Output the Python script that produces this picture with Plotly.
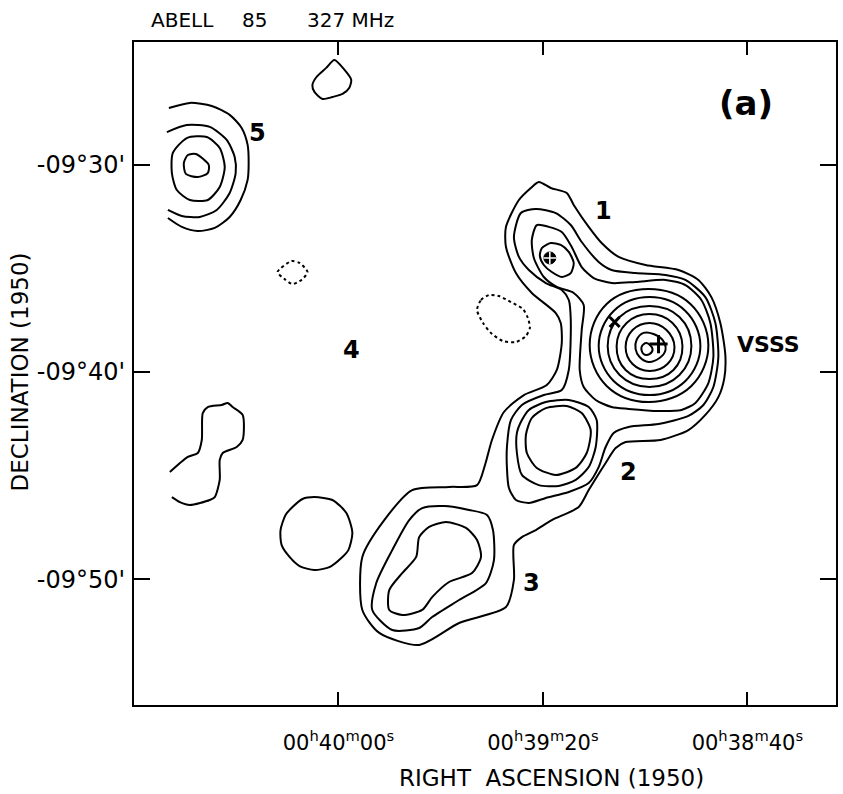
import plotly.graph_objects as go

# Axis units: RA = seconds of time after 00h38m00s (1950); Dec = arcmin, -30 means -09d30'
ra_tick_vals = [120, 80, 40]
ra_tick_text = ["00<sup>h</sup>40<sup>m</sup>00<sup>s</sup>",
                "00<sup>h</sup>39<sup>m</sup>20<sup>s</sup>",
                "00<sup>h</sup>38<sup>m</sup>40<sup>s</sup>"]
dec_tick_vals = [-30, -40, -50]
dec_tick_text = ["-09°30'", "-09°40'", "-09°50'"]
ra_range = [160.0, 22.66]
dec_range = [-56.08, -24.06]

# ---- contour vertices (RA, Dec) ----
top_blob = [(120.8, -24.93), (118.8, -25.41), (117.5, -25.89), (117.9, -26.28), (119.2, -26.57),
            (121.2, -26.72), (123.1, -26.81), (124.7, -26.47), (125.1, -26.14), (124.3, -25.75),
            (122.4, -25.31)]

src5_a = [(153.18, -27.25), (149.08, -27.00), (144.79, -27.15), (141.28, -27.58), (138.94, -28.21),
          (137.77, -29.03), (137.57, -29.90), (137.77, -30.72), (139.13, -31.69), (141.28, -32.51),
          (144.20, -33.04), (147.52, -33.19), (150.64, -32.99), (153.37, -32.56)]
src5_b = [(153.57, -28.41), (149.67, -28.07), (145.18, -28.16), (141.86, -28.79), (140.30, -29.61),
          (140.11, -30.39), (141.28, -31.35), (143.81, -32.17), (147.13, -32.51), (150.64, -32.46),
          (153.37, -32.17)]
src5_c = [(152.40, -29.42), (149.67, -28.70), (145.76, -28.65), (143.23, -29.18), (142.25, -30.10),
          (143.23, -31.06), (145.57, -31.69), (149.08, -31.69), (151.62, -31.21), (152.59, -30.39)]
src5_d = [(150.25, -29.90), (149.47, -29.52), (147.91, -29.47), (145.37, -30.00), (145.57, -30.39),
          (147.52, -30.58), (149.86, -30.43)]

left_blob = [(152.98, -44.83), (149.47, -44.10), (147.52, -43.91), (146.74, -43.28), (146.55, -41.98),
             (145.57, -41.69), (142.84, -41.59), (141.67, -41.49), (140.70, -41.69), (138.74, -42.07),
             (138.74, -43.28), (139.91, -43.62), (142.64, -43.91), (143.23, -44.25), (143.23, -45.21),
             (144.20, -46.04), (145.18, -46.18), (149.08, -46.42), (151.03, -46.28), (152.59, -46.04)]

round_blob = [(124.69, -46.04), (121.18, -46.18), (118.45, -46.81), (117.28, -47.77), (118.06, -48.60),
              (119.23, -48.93), (121.77, -49.42), (124.69, -49.56), (127.62, -49.37), (129.57, -48.93),
              (131.13, -48.35), (131.33, -47.63), (130.35, -46.90), (128.99, -46.52), (127.04, -46.13)]

neg_small = [(131.91, -35.17), (129.18, -34.64), (127.62, -34.73), (126.06, -35.17), (127.23, -35.55),
             (128.99, -35.75), (130.55, -35.51)]
neg_large = [(92.89, -37.00), (92.11, -36.52), (90.55, -36.28), (88.60, -36.33), (86.26, -36.62),
             (83.92, -36.95), (82.94, -37.39), (82.55, -37.87), (83.33, -38.26), (85.28, -38.55),
             (87.82, -38.50), (90.16, -38.11), (91.72, -37.63)]

lowest_level = [(80.80, -30.82), (78.46, -31.11), (75.33, -31.35), (73.97, -31.93), (71.04, -32.99),
                (68.51, -33.77), (65.19, -34.44), (59.92, -34.83), (53.48, -35.07), (49.58, -35.55),
                (47.04, -36.38), (45.29, -37.63), (44.31, -39.18), (44.51, -40.29), (45.68, -41.21),
                (48.22, -42.07), (51.53, -42.80), (56.99, -43.28), (63.82, -43.38), (65.77, -43.67),
                (67.73, -44.39), (71.04, -45.70), (73.00, -46.52), (78.26, -47.15), (81.38, -47.63),
                (84.11, -47.97), (85.67, -48.35), (85.67, -50.04), (87.23, -51.35), (96.40, -52.12),
                (104.21, -53.18), (112.01, -52.60), (115.33, -51.49), (115.33, -48.93), (111.04, -47.15),
                (105.57, -45.70), (98.36, -45.55), (92.89, -45.46), (91.33, -44.49), (89.97, -43.28),
                (87.63, -41.93), (83.72, -41.11), (79.24, -40.63), (77.28, -39.90), (76.31, -38.60),
                (76.51, -37.63), (77.48, -37.15), (82.17, -36.18), (85.28, -35.22), (87.23, -33.96),
                (87.23, -32.99), (84.70, -31.69), (82.36, -31.11)]

second_level = [(84.31, -32.32), (81.38, -32.12), (77.48, -32.32), (74.55, -32.90), (72.41, -33.72),
                (69.09, -34.68), (66.55, -35.07), (61.87, -35.22), (56.02, -35.31), (52.12, -35.55),
                (48.22, -36.38), (46.26, -37.63), (45.68, -39.27), (46.65, -40.72), (48.60, -41.59),
                (51.53, -42.12), (57.38, -42.51), (63.24, -42.65), (66.16, -42.94), (67.73, -43.62),
                (69.09, -44.59), (71.04, -45.36), (74.94, -45.79), (79.43, -46.08), (82.75, -46.32),
                (85.28, -46.18), (86.65, -45.60), (87.04, -44.63), (87.04, -43.62), (86.26, -42.32),
                (84.11, -41.59), (79.82, -41.11), (76.31, -40.87), (74.94, -39.90), (74.55, -37.49),
                (74.94, -36.52), (76.31, -36.04), (79.43, -35.70), (82.75, -35.07), (84.70, -34.44),
                (85.67, -33.48)]

third_level = [(81.19, -32.90), (78.85, -32.99), (76.31, -33.24), (74.36, -33.96), (72.41, -34.93),
               (70.07, -35.46), (66.55, -35.70), (61.87, -35.65), (56.02, -35.55), (52.12, -35.80),
               (49.00, -36.52), (47.24, -37.63), (46.65, -39.27), (47.63, -40.53), (50.17, -41.49),
               (52.90, -41.83), (57.38, -41.88), (63.24, -41.78), (66.55, -41.69), (69.67, -41.35),
               (72.02, -40.72), (72.80, -39.90), (72.41, -37.97), (72.02, -36.76), (73.97, -36.18),
               (77.28, -35.89), (79.82, -35.41), (81.77, -34.49), (82.17, -33.62)]

src1_inner = [(80.21, -34.01), (78.46, -33.77), (76.51, -33.86), (74.94, -34.20), (73.97, -34.73),
              (74.55, -35.22), (76.31, -35.41), (78.26, -35.17), (79.82, -34.83), (80.60, -34.39)]

src2_ring = [(84.11, -42.32), (82.75, -41.83), (79.43, -41.45), (74.94, -41.35), (71.04, -41.69),
             (69.48, -42.32), (69.67, -43.62), (71.04, -44.59), (73.58, -45.21), (76.89, -45.50),
             (80.80, -45.46), (84.11, -44.97), (85.09, -43.91), (85.09, -42.94)]
src2_inner = [(79.43, -41.74), (75.33, -41.64), (72.41, -41.98), (70.65, -42.80), (71.43, -43.91),
              (73.58, -44.63), (77.48, -44.97), (81.19, -44.63), (83.14, -43.91), (83.33, -43.04),
              (82.17, -42.22)]

src3_mid = [(103.62, -46.57), (99.33, -46.47), (94.45, -46.66), (90.94, -46.90), (89.77, -47.63),
            (89.58, -49.08), (91.14, -50.19), (96.41, -51.01), (101.67, -51.83), (104.21, -52.36),
            (109.48, -52.46), (113.38, -51.49), (112.60, -50.19), (109.48, -48.60), (106.16, -47.15)]
src3_inner = [(102.26, -47.48), (98.94, -47.24), (95.04, -47.53), (92.89, -48.11), (92.11, -48.93),
              (93.87, -49.71), (98.36, -50.14), (101.67, -50.87), (103.62, -51.49), (107.53, -51.73),
              (110.06, -51.49), (110.06, -50.53), (107.53, -49.71), (104.79, -48.93), (104.21, -47.97)]

vsss_1 = [(60.70, -38.79), (59.73, -38.60), (58.55, -38.89), (59.14, -39.13), (60.31, -39.13)]
vsss_2 = [(61.68, -38.45), (60.31, -38.11), (58.36, -38.16), (56.60, -38.45), (56.02, -38.94),
          (57.19, -39.32), (59.33, -39.51), (61.09, -39.27), (61.87, -38.89)]
vsss_3 = [(63.82, -38.79), (62.46, -37.97), (59.14, -37.63), (55.82, -37.97), (54.26, -38.79),
          (55.63, -39.61), (59.14, -39.95), (62.46, -39.61)]
vsss_4 = [(65.58, -38.74), (63.63, -37.63), (59.14, -37.20), (54.65, -37.63), (52.70, -38.74),
          (54.46, -39.90), (59.14, -40.34), (63.82, -39.90)]
vsss_5 = [(67.33, -38.74), (64.99, -37.34), (59.14, -36.81), (53.29, -37.34), (50.95, -38.74),
          (53.29, -40.14), (59.14, -40.72), (64.99, -40.14)]
vsss_6 = [(69.09, -38.74), (66.16, -37.05), (59.14, -36.38), (52.12, -37.05), (49.19, -38.74),
          (52.12, -40.43), (59.14, -41.11), (66.16, -40.43)]
vsss_7 = [(70.85, -38.69), (67.53, -36.71), (59.33, -35.99), (51.14, -36.71), (47.63, -38.69),
          (50.95, -40.67), (59.33, -41.45), (67.53, -40.67)]

# optical / other positions
opt_circle_pos = (78.65, -34.49)
x_mark_pos = (65.97, -37.58)
plus_mark_pos = (57.38, -38.65)

# labels (text, RA, Dec, size)
source_labels = [("5", 135.81, -28.45, 24), ("1", 68.12, -32.22, 24), ("VSSS", 35.9, -38.69, 22),
                 ("4", 117.48, -38.94, 24), ("2", 63.24, -44.83, 24), ("3", 82.17, -50.19, 24),
                 ("(a)", 40.2, -27.0, 34)]

fig = go.Figure()

def add_contour(pts, closed=True, dash="solid", smooth=0.7):
    p = list(pts) + ([pts[0]] if closed else [])
    fig.add_trace(go.Scatter(x=[q[0] for q in p], y=[q[1] for q in p], mode="lines",
                             line=dict(color="black", width=2, dash=dash, shape="spline",
                                       smoothing=smooth),
                             hoverinfo="skip", showlegend=False))

for c in [top_blob, src5_c, src5_d, round_blob, lowest_level, second_level, third_level,
          src1_inner, src2_ring, src2_inner, src3_mid, src3_inner]:
    add_contour(c)
for c in [src5_a, src5_b, left_blob]:
    add_contour(c, closed=False)
for c in [vsss_1, vsss_2, vsss_3, vsss_4, vsss_5, vsss_6, vsss_7]:
    add_contour(c, smooth=1.1)
for c in [neg_small, neg_large]:
    add_contour(c, dash="3px,3px")

fig.add_trace(go.Scatter(x=[opt_circle_pos[0]], y=[opt_circle_pos[1]], mode="markers",
                         marker=dict(symbol="circle", size=12, color="black",
                                     line=dict(color="black", width=1)),
                         hoverinfo="skip", showlegend=False))
fig.add_trace(go.Scatter(x=[opt_circle_pos[0]], y=[opt_circle_pos[1]], mode="markers",
                         marker=dict(symbol="cross-thin-open", size=9, color="white",
                                     line=dict(color="white", width=1.5)),
                         hoverinfo="skip", showlegend=False))
fig.add_trace(go.Scatter(x=[x_mark_pos[0]], y=[x_mark_pos[1]], mode="markers",
                         marker=dict(symbol="x-thin-open", size=10, color="black",
                                     line=dict(color="black", width=3)),
                         hoverinfo="skip", showlegend=False))
fig.add_trace(go.Scatter(x=[plus_mark_pos[0]], y=[plus_mark_pos[1]], mode="markers",
                         marker=dict(symbol="cross-thin-open", size=13, color="black",
                                     line=dict(color="black", width=3)),
                         hoverinfo="skip", showlegend=False))

for txt, ra, dec, sz in source_labels:
    fig.add_annotation(x=ra, y=dec, xref="x", yref="y", text="<b>%s</b>" % txt, showarrow=False,
                       font=dict(family="DejaVu Sans", size=sz, color="black"))

title_font = dict(family="DejaVu Sans", size=20, color="black")
axis_title_font = dict(family="DejaVu Sans", size=23, color="black")
fig.add_annotation(x=-0.162, y=0.502, xref="paper", yref="paper", text="DECLINATION (1950)",
                   textangle=-90, showarrow=False, xanchor="center", yanchor="middle",
                   font=axis_title_font)
fig.add_annotation(x=0.595, y=-0.110, xref="paper", yref="paper", text="RIGHT  ASCENSION (1950)",
                   showarrow=False, xanchor="center", yanchor="middle", font=axis_title_font)
fig.add_annotation(x=0.0213, y=1.033, xref="paper", yref="paper", text="ABELL", xanchor="left",
                   yanchor="middle", showarrow=False, font=title_font)
fig.add_annotation(x=0.1506, y=1.033, xref="paper", yref="paper", text="85", xanchor="left",
                   yanchor="middle", showarrow=False, font=title_font)
fig.add_annotation(x=0.243, y=1.033, xref="paper", yref="paper", text="327 MHz", xanchor="left",
                   yanchor="middle", showarrow=False, font=title_font)

axis_common = dict(showline=True, linewidth=2, linecolor="black", mirror="ticks", ticks="inside",
                   tickcolor="black", tickwidth=2, showgrid=False, zeroline=False)
fig.update_xaxes(range=ra_range, tickvals=ra_tick_vals, ticktext=ra_tick_text, ticklen=13,
                 tickfont=dict(family="DejaVu Sans", size=21, color="black"), ticklabelstandoff=18,
                 **axis_common)
fig.update_yaxes(range=dec_range, tickvals=dec_tick_vals, ticktext=dec_tick_text, ticklen=16,
                 tickfont=dict(family="DejaVu Sans", size=24, color="black"), ticklabelstandoff=2,
                 **axis_common)
fig.update_layout(width=843, height=794, margin=dict(l=134, r=5, t=42, b=89),
                  paper_bgcolor="white", plot_bgcolor="white", showlegend=False)

fig.write_html("out.html", config={"displayModeBar": False},
               post_script="document.body.style.margin='0px';document.body.style.overflow='hidden';")
